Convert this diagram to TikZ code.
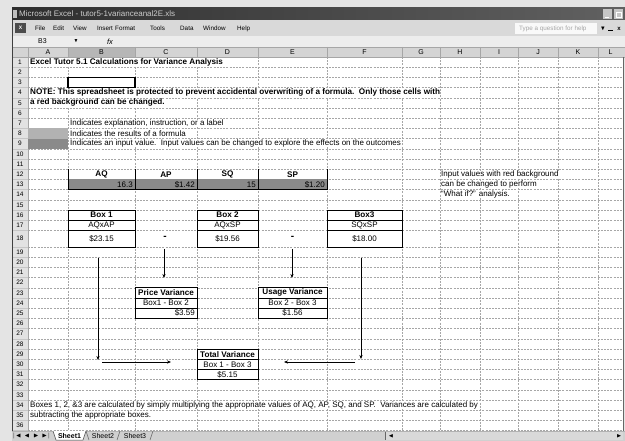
\documentclass[tikz,border=0pt]{standalone}
\usepackage{amssymb}
\usepackage{fontspec}
\setmainfont{Liberation Sans}
\usetikzlibrary{arrows.meta}
\definecolor{pagebg}{HTML}{E4E4E4}
\definecolor{menubg}{HTML}{D9D9D9}
\definecolor{fbarbg}{HTML}{EDEDED}
\definecolor{hdrbg}{HTML}{D4D4D4}
\definecolor{hdrsel}{HTML}{B6B6B6}
\definecolor{rowhdr}{HTML}{E2E2E2}
\definecolor{gridc}{HTML}{A6A6A6}
\definecolor{formcell}{HTML}{B2B2B2}
\definecolor{inputcell}{HTML}{8A8A8A}
\definecolor{tabbg}{HTML}{D0D0D0}
\begin{document}
\begin{tikzpicture}[x=1pt,y=-1pt,
  cell/.style={inner sep=0pt, font=\fontsize{8}{9}\selectfont},
  bcell/.style={inner sep=0pt, font=\fontsize{8.15}{9}\selectfont\bfseries},
  lcell/.style={cell, anchor=west, fill=white},
  lbcell/.style={bcell, anchor=west, fill=white},
  hdr/.style={inner sep=0pt, font=\fontsize{7}{8}\selectfont},
  menu/.style={inner sep=0pt, anchor=west, font=\fontsize{6.3}{7}\selectfont},
  grid line/.style={gridc, line width=0.4pt, dash pattern=on 2pt off 1.2pt},
  boxline/.style={black, line width=0.7pt},
  arr/.style={black, line width=0.6pt, -{Stealth[length=4pt,width=3.2pt]}}
]
\useasboundingbox (0,0) rectangle (625,441);
\fill[pagebg] (0,0) rectangle (625,441);

% ---- title bar
\shade[left color=black!82, right color=black!62] (12,8) rectangle (625,20);
\fill[gray!50] (13,10) rectangle (17,18);
\node[menu, text=white!80!black, font=\fontsize{8}{9}\selectfont] (title) at (19,14) {Microsoft Excel - tutor5-1varianceanal2E.xls};
\fill[gray!45] (603,9) rectangle (612,19);
\fill[gray!45] (614,9) rectangle (623,19);
\draw[white, line width=0.8pt] (605,17) -- (609,17);
\draw[white, line width=0.6pt] (616,12) rectangle (621,17);

% ---- menu bar
\fill[menubg] (12,20) rectangle (625,36);
\fill[black!70] (15,23) rectangle (26,33);
\node[inner sep=0pt, text=white, font=\fontsize{5}{5}\selectfont\bfseries] (xlicon) at (20.5,28) {X};
\node[menu] (mfile) at (35,28.5) {File};
\node[menu] (medit) at (53,28.5) {Edit};
\node[menu] (mview) at (73,28.5) {View};
\node[menu] (mins) at (97,28.5) {Insert};
\node[menu] (mfmt) at (115,28.5) {Format};
\node[menu] (mtools) at (150,28.5) {Tools};
\node[menu] (mdata) at (180,28.5) {Data};
\node[menu] (mwin) at (203,28.5) {Window};
\node[menu] (mhelp) at (237,28.5) {Help};
\fill[white!95!gray] (515,23) rectangle (597,34);
\node[menu, text=gray!70, font=\fontsize{6.3}{7}\selectfont] (ask) at (519,28.5) {Type a question for help};
\node[inner sep=0pt, font=\fontsize{6}{7}\selectfont] (askdd) at (603,28.5) {$\blacktriangledown$};
\draw[black, line width=0.8pt] (608,30) -- (613,30);
\node[inner sep=0pt, font=\fontsize{6}{7}\selectfont\bfseries] (askx) at (619,28.5) {x};

% ---- formula bar
\fill[fbarbg] (12,36) rectangle (625,47);
\node[menu, font=\fontsize{7}{8}\selectfont] (namebox) at (38,41.5) {B3};
\node[inner sep=0pt, font=\fontsize{5}{6}\selectfont] (nbdd) at (76,41.5) {$\blacktriangledown$};
\node[inner sep=0pt, font=\fontsize{7.5}{8}\selectfont\itshape] (fx) at (110,41.5) {fx};

% ---- column headers
\fill[hdrbg] (12,47) rectangle (625,57);
\fill[hdrsel] (68,47) rectangle (135,57);
\draw[black!60, line width=0.6pt] (68,47) rectangle (135,57);
\foreach \x in {28,68,135,197,258,327,402,440,480,518,558,598}
  \draw[gray!70, line width=0.4pt] (\x,47) -- (\x,57);
\draw[gray!70, line width=0.4pt] (12,47) -- (625,47);
\foreach \c/\x in {A/48,B/101.5,C/166,D/227.5,E/292.5,F/364.5,G/421,H/460,I/499,J/538,K/578,L/610.5}
  \node[hdr] (col\c) at (\x,52) {\c};

% ---- row headers and sheet
\fill[rowhdr] (12,57) rectangle (28,431);
\fill[white] (28,57) rectangle (623,431);
\foreach \y in {67.2,77.4,87.6,97.8,108,118.2,128.4,138.6,148.8,159,169.2,179.4,189.6,199.8,210,220.2,230.4,247,257.2,267.4,277.6,287.8,298,308.2,318.4,328.6,338.8,349,359.2,369.4,379.6,389.8,400,410.2,420.4,430.6}{
  \draw[grid line] (28,\y) -- (623,\y);
  \draw[gray!45, line width=0.3pt] (12,\y) -- (28,\y);
}
\foreach \x in {68,135,197,258,327,402,440,480,518,558,598}
  \draw[grid line] (\x,57) -- (\x,431);
\draw[gray!70, line width=0.5pt] (28,57) -- (28,431);
\draw[gray!70, line width=0.4pt] (12,57) -- (625,57);
\foreach \r/\y in {1/62.1,2/72.3,3/82.5,4/92.7,5/102.9,6/113.1,7/123.3,8/133.5,9/143.7,10/153.9,11/164.1,12/174.3,13/184.5,14/194.7,15/204.9,16/215.1,17/225.3,18/238.7,19/252.1,20/262.3,21/272.5,22/282.7,23/292.9,24/303.1,25/313.3,26/323.5,27/333.7,28/343.9,29/354.1,30/364.3,31/374.5,32/384.7,33/394.9,34/405.1,35/415.3,36/425.5}
  \node[hdr, font=\fontsize{6.5}{7}\selectfont] (row\r) at (20,\y) {\r};
\draw[black!75, line width=0.9pt] (12,20) -- (12,441);
\draw[black!60, line width=0.6pt] (623,57) -- (623,431);

% ---- text rows 1-9
\node[lbcell] (t1) at (30,62.1) {Excel Tutor 5.1 Calculations for Variance Analysis};
\draw[black, line width=1.6pt] (68,77.4) rectangle (135,87.6);
\node[lbcell] (t4) at (30,92.7) {NOTE: This spreadsheet is protected to prevent accidental overwriting of a formula.\ \ Only those cells with};
\node[lbcell] (t5) at (30,102.9) {a red background can be changed.};
\fill[formcell] (28,128.4) rectangle (68,138.6);
\fill[inputcell] (28,138.6) rectangle (68,148.8);
\node[lcell] (t7) at (70,123.3) {Indicates explanation, instruction, or a label};
\node[lcell] (t8) at (70,133.5) {Indicates the results of a formula};
\node[lcell] (t9) at (70,143.7) {Indicates an input value.\ \ Input values can be changed to explore the effects on the outcomes};

% ---- inputs rows 12-13
\fill[inputcell] (68,179.4) rectangle (327,189.6);
\foreach \x in {68,135,197,258,327}
  \draw[boxline] (\x,169.2) -- (\x,189.6);
\draw[boxline] (68,189.6) -- (327,189.6);
\node[bcell] (hAQ) at (101.5,174.3) {AQ};
\node[bcell] (hAP) at (166,174.3) {AP};
\node[bcell] (hSQ) at (227.5,174.3) {SQ};
\node[bcell] (hSP) at (292.5,174.3) {SP};
\node[cell, anchor=east] (vAQ) at (133,184.5) {16.3};
\node[cell, anchor=east] (vAP) at (195,184.5) {\$1.42};
\node[cell, anchor=east] (vSQ) at (256,184.5) {15};
\node[cell, anchor=east] (vSP) at (325,184.5) {\$1.20};

\node[lcell] (n1) at (441,174.3) {Input values with red background};
\node[lcell] (n2) at (441,184.5) {can be changed to perform};
\node[lcell] (n3) at (441,194.7) {``What if?'' analysis.};

% ---- boxes rows 16-18
\foreach \xa/\xb in {68/135,197/258,327/402}{
  \fill[white] (\xa,210) rectangle (\xb,247);
  \draw[boxline] (\xa,210) rectangle (\xb,247);
  \draw[boxline] (\xa,220.2) -- (\xb,220.2);
  \draw[boxline] (\xa,230.4) -- (\xb,230.4);
}
\node[bcell] (b1h) at (101.5,215.1) {Box 1};
\node[cell] (b1f) at (101.5,225.3) {AQxAP};
\node[cell] (b1v) at (101.5,238.7) {\$23.15};
\node[bcell] (b2h) at (227.5,215.1) {Box 2};
\node[cell] (b2f) at (227.5,225.3) {AQxSP};
\node[cell] (b2v) at (227.5,238.7) {\$19.56};
\node[bcell] (b3h) at (364.5,215.1) {Box3};
\node[cell] (b3f) at (364.5,225.3) {SQxSP};
\node[cell] (b3v) at (364.5,238.7) {\$18.00};
\node[bcell, font=\fontsize{10}{10}\selectfont\bfseries] (mC) at (165,238.2) {-};
\node[bcell, font=\fontsize{10}{10}\selectfont\bfseries] (mE) at (292.5,238.2) {-};

% ---- variance boxes
\foreach \xa/\xb/\ya in {135/197/287.8,258/327/287.8,197/258/349}{
  \fill[white] (\xa,\ya) rectangle (\xb,\ya+30.6);
  \draw[boxline] (\xa,\ya) rectangle (\xb,\ya+30.6);
  \draw[boxline] (\xa,\ya+10.2) -- (\xb,\ya+10.2);
  \draw[boxline] (\xa,\ya+20.4) -- (\xb,\ya+20.4);
}
\node[bcell] (pvh) at (166,292.9) {Price Variance};
\node[cell] (pvf) at (166,303.1) {Box1 - Box 2};
\node[cell, anchor=east] (pvv) at (195,313.3) {\$3.59};
\node[bcell] (uvh) at (292.5,292.9) {Usage Variance};
\node[cell] (uvf) at (292.5,303.1) {Box 2 - Box 3};
\node[cell] (uvv) at (292.5,313.3) {\$1.56};
\node[bcell] (tvh) at (227.5,354.1) {Total Variance};
\node[cell] (tvf) at (227.5,364.3) {Box 1 - Box 3};
\node[cell] (tvv) at (227.5,374.5) {\$5.15};

% ---- arrows
\coordinate (aCs) at (164,249);   \coordinate (aCe) at (164,278);
\coordinate (aEs) at (292,249);   \coordinate (aEe) at (292,278);
\coordinate (aBs) at (98,258);    \coordinate (aBe) at (98,360);
\coordinate (hLs) at (102,362);   \coordinate (hLe) at (171,362);
\coordinate (aFs) at (361,258);   \coordinate (aFe) at (361,359);
\coordinate (hRs) at (355,362);   \coordinate (hRe) at (284,362);
\draw[arr] (aCs) -- (aCe);
\draw[arr] (aEs) -- (aEe);
\draw[arr] (aBs) -- (aBe);
\draw[arr] (hLs) -- (hLe);
\draw[arr] (aFs) -- (aFe);
\draw[arr] (hRs) -- (hRe);

% ---- notes rows 34-35
\node[lcell] (t34) at (30,405.1) {Boxes 1, 2, \&3 are calculated by simply multiplying the appropriate values of AQ, AP, SQ, and SP.\ \ Variances are calculated by};
\node[lcell] (t35) at (30,415.3) {subtracting the appropriate boxes.};

% ---- sheet tabs bar
\fill[tabbg] (12,431) rectangle (625,441);
\draw[gray!60, line width=0.4pt] (12,431) -- (625,431);
\node[hdr, font=\fontsize{6}{6}\selectfont] (nav1) at (17,436) {$\vert\!\blacktriangleleft$};
\node[hdr, font=\fontsize{6}{6}\selectfont] (nav2) at (27,436) {$\blacktriangleleft$};
\node[hdr, font=\fontsize{6}{6}\selectfont] (nav3) at (36,436) {$\blacktriangleright$};
\node[hdr, font=\fontsize{6}{6}\selectfont] (nav4) at (46,436) {$\blacktriangleright\!\vert$};
\fill[white] (53,431) -- (56,440) -- (83,440) -- (86,431) -- cycle;
\draw[black!70, line width=0.5pt] (53,431) -- (56,440) -- (83,440) -- (86,431);
\node[hdr, font=\fontsize{7}{7}\selectfont\bfseries] (tab1) at (69.5,435.5) {Sheet1};
\node[hdr, font=\fontsize{7}{7}\selectfont] (tab2) at (103,435.5) {Sheet2};
\node[hdr, font=\fontsize{7}{7}\selectfont] (tab3) at (135,435.5) {Sheet3};
\draw[black!60, line width=0.5pt] (86,431) -- (89,440) (117,440) -- (120,431) (150,440) -- (153,431);
\fill[gray!30] (385,432) rectangle (623,440);
\draw[black!60, line width=0.5pt] (385,432) -- (385,440);
\node[hdr, font=\fontsize{5}{5}\selectfont] (sbl) at (391,436) {$\blacktriangleleft$};
\node[hdr, font=\fontsize{5}{5}\selectfont] (sbr) at (619,436) {$\blacktriangleright$};
\end{tikzpicture}
\end{document}
